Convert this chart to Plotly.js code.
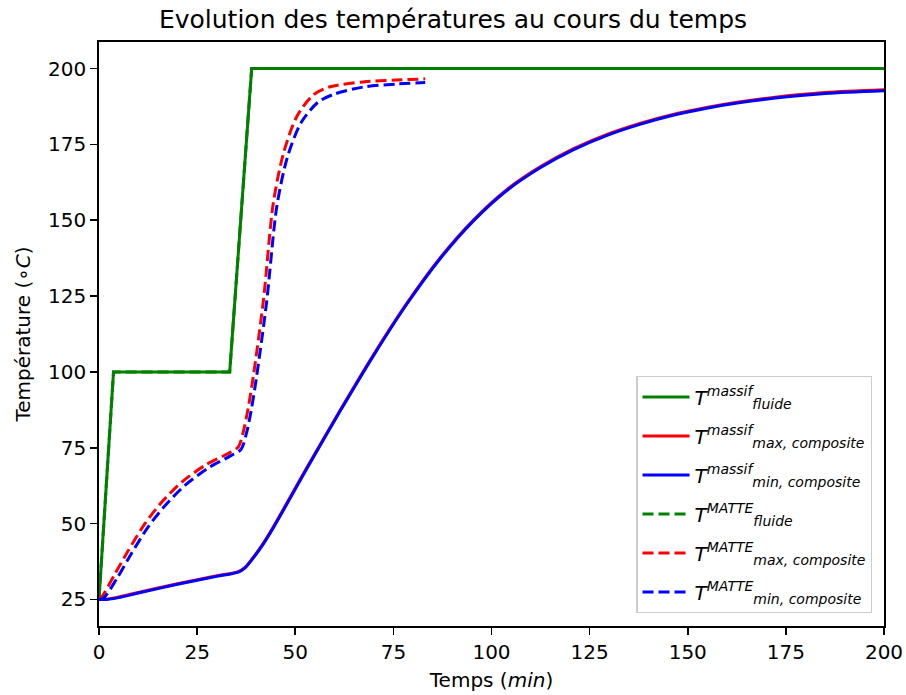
<!DOCTYPE html>
<html>
<head>
<meta charset="utf-8">
<script src="https://cdn.plot.ly/plotly-3.0.1.min.js"></script>
<style>html,body{margin:0;padding:0;background:#fff;}#chart{width:906px;height:695px;}</style>
</head>
<body>
<div id="chart"></div>
<script>
// Time (min) and temperatures (°C)
const tFluideMassif = [0, 3.7, 33.3, 38.9, 200];
const yFluideMassif = [25, 100, 100, 200, 200];

const tFluideMatte = [0, 3.7, 33.3, 38.9, 200];
const yFluideMatte = [25, 100, 100, 200, 200];

const tCompMassif = [0, 2, 5, 10, 20, 30, 35.5, 37.2, 38.9, 41.5, 44.4, 52.9, 61.4, 69.9, 78.4, 86.9, 95.4, 103.9, 112.4, 120.8, 129.3, 137.8, 146, 154.8, 163, 171.8, 185, 200];
const yMaxMassif  = [25.1, 25.1, 25.8, 27.3, 30.2, 32.8, 34.2, 35.6, 38.2, 42.8, 48.9, 68.3, 87.3, 105.6, 122.6, 137.6, 150.1, 160.1, 167.6, 173.5, 178.2, 181.9, 184.8, 187.2, 189.0, 190.5, 192.1, 193.0];
const yMinMassif  = [25, 25, 25.6, 27.1, 30.0, 32.6, 34.0, 35.4, 38.0, 42.6, 48.6, 68.0, 87.0, 105.3, 122.3, 137.3, 149.8, 159.8, 167.3, 173.2, 177.9, 181.6, 184.5, 186.9, 188.7, 190.2, 191.8, 192.7];

const tMaxMatte = [0, 0.7, 4.1, 7.5, 11.7, 16, 21.1, 27, 32.9, 35.5, 36.8, 38.0, 39.3, 41.9, 44.4, 47, 50.4, 54.6, 58.9, 67.3, 75.8, 83.1];
const yMaxMatte = [25, 25.8, 33.5, 41.2, 50, 57.1, 63.7, 69.2, 73.1, 75.3, 80.5, 88, 98.4, 123.7, 155.6, 172.1, 184.2, 191.3, 194, 195.6, 196.2, 196.6];

const tMinMatte = [0, 1.2, 4.6, 8.2, 12.4, 16.8, 21.9, 27.8, 33.6, 36.2, 37.6, 38.8, 40.1, 42.7, 45.3, 48, 51.5, 55.8, 60, 67.3, 75.8, 83.1];
const yMinMatte = [25, 25.5, 32, 40, 48.7, 55.9, 62.6, 68.3, 72.4, 74.5, 80, 87.5, 98, 123, 154.5, 170.8, 182.2, 188.9, 191.6, 193.9, 194.9, 195.4];

const legendNames = [
  "<i>T</i><sup><i>massif</i></sup><sub><i>fluide</i></sub>",
  "<i>T</i><sup><i>massif</i></sup><sub><i>max, composite</i></sub>",
  "<i>T</i><sup><i>massif</i></sup><sub><i>min, composite</i></sub>",
  "<i>T</i><sup><i>MATTE</i></sup><sub><i>fluide</i></sub>",
  "<i>T</i><sup><i>MATTE</i></sup><sub><i>max, composite</i></sub>",
  "<i>T</i><sup><i>MATTE</i></sup><sub><i>min, composite</i></sub>"
];

const LW = 3;
const DASH = "11px,5px";
const traces = [
  {x: tFluideMassif, y: yFluideMassif, name: legendNames[0], legendgroup: "g1", mode: "lines", line: {color: "#008000", width: LW}},
  {x: tCompMassif, y: yMaxMassif, name: legendNames[1], legendgroup: "g2", mode: "lines", line: {color: "#ff0000", width: LW, shape: "spline", smoothing: 0.8}},
  {x: tCompMassif, y: yMinMassif, name: legendNames[2], legendgroup: "g3", mode: "lines", line: {color: "#0000ff", width: LW, shape: "spline", smoothing: 0.8}},
  {x: tFluideMatte, y: yFluideMatte, name: legendNames[3], legendgroup: "g4", mode: "lines", line: {color: "#008000", width: LW, dash: DASH}},
  {x: tMaxMatte, y: yMaxMatte, name: legendNames[4], legendgroup: "g5", mode: "lines", line: {color: "#ff0000", width: LW, dash: DASH, shape: "spline", smoothing: 0.8}},
  {x: tMinMatte, y: yMinMatte, name: legendNames[5], legendgroup: "g6", mode: "lines", line: {color: "#0000ff", width: LW, dash: DASH, shape: "spline", smoothing: 0.8}}
];

const FONT = "DejaVu Sans, sans-serif";
const layout = {
  width: 906, height: 695,
  margin: {l: 99, r: 22, t: 42, b: 69},
  paper_bgcolor: "#ffffff", plot_bgcolor: "#ffffff",
  font: {family: FONT, size: 20, color: "#000"},
  title: {text: "Evolution des températures au cours du temps", font: {family: FONT, size: 25, color: "#000"}, x: 0.5, xanchor: "center", y: 0.972, yanchor: "middle"},
  xaxis: {
    range: [0, 200], tickvals: [0, 25, 50, 75, 100, 125, 150, 175, 200],
    showgrid: false, zeroline: false, showline: true, mirror: true, linecolor: "#000", linewidth: 1.7,
    ticks: "outside", ticklen: 7, tickwidth: 1.7, tickcolor: "#000",
    tickfont: {family: FONT, size: 20},
    title: {text: "Temps (<i>min</i>)", font: {family: FONT, size: 20}, standoff: 10}
  },
  yaxis: {
    range: [16.25, 208.75], tickvals: [25, 50, 75, 100, 125, 150, 175, 200],
    showgrid: false, zeroline: false, showline: true, mirror: true, linecolor: "#000", linewidth: 1.7,
    ticks: "outside", ticklen: 7, tickwidth: 1.7, tickcolor: "#000",
    tickfont: {family: FONT, size: 20},
    title: {text: "Température (∘<i>C</i>)", font: {family: FONT, size: 20}, standoff: 12}
  },
  legend: {
    x: 0.985, xanchor: "right", y: 0.022, yanchor: "bottom",
    bgcolor: "rgba(255,255,255,0.8)", bordercolor: "#cccccc", borderwidth: 1.3,
    font: {family: FONT, size: 20, color: "#000"},
    itemwidth: 47, tracegroupgap: 10, traceorder: "grouped"
  },
  showlegend: true
};

Plotly.newPlot("chart", traces, layout, {staticPlot: true, displayModeBar: false});
</script>
</body>
</html>
